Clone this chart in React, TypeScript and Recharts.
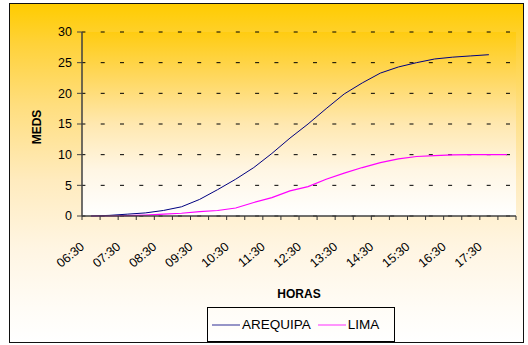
import React from 'react';
import { LineChart, Line, XAxis, YAxis, CartesianGrid, Legend } from 'recharts';

const times = ['06:30', '07:00', '07:30', '08:00', '08:30', '09:00', '09:30', '10:00', '10:30', '11:00', '11:30', '12:00', '12:30', '13:00', '13:30', '14:00', '14:30', '15:00', '15:30', '16:00', '16:30', '17:00', '17:30', '18:00'];
const arequipa = [0, 0.1, 0.3, 0.5, 0.9, 1.5, 2.7, 4.3, 6.0, 7.9, 10.2, 12.7, 15.0, 17.5, 19.9, 21.7, 23.3, 24.3, 25.0, 25.6, 25.9, 26.1, 26.3, null];
const lima = [0, 0, 0.05, 0.15, 0.3, 0.45, 0.7, 0.9, 1.3, 2.2, 3.0, 4.1, 4.8, 6.0, 7.0, 7.9, 8.7, 9.3, 9.7, 9.85, 9.95, 10.0, 10.0, 10.0];
const yTicks = [0, 5, 10, 15, 20, 25, 30];

const data = times.map((t, i) => ({ time: t, AREQUIPA: arequipa[i], LIMA: lima[i] }));

const FONT = '"Liberation Sans", Arial, sans-serif';

const XTick = (props: any) => {
  const { x, y, payload, index, visibleTicksCount } = props;
  const off = payload && typeof payload.offset === 'number' ? payload.offset : 0;
  const bx = x - off;
  const ax = x - 6;
  const ay = y + 32;
  return (
    <g>
      <line x1={bx} x2={bx} y1={y} y2={y + 4} stroke="#333" strokeWidth={1} />
      {index === visibleTicksCount - 1 && (
        <line x1={x + off} x2={x + off} y1={y} y2={y + 4} stroke="#333" strokeWidth={1} />
      )}
      {index % 2 === 0 && (
        <text x={ax} y={ay} transform={`rotate(-40, ${ax}, ${ay})`} textAnchor="end" fontSize={12.5} fill="#000" fontFamily={FONT}>
          {payload.value}
        </text>
      )}
    </g>
  );
};

const LegendBox = () => (
  <div style={{ boxSizing: 'border-box', width: 188, height: 35, border: '1px solid #000', display: 'flex', alignItems: 'center', fontFamily: FONT, fontSize: 13.5, color: '#000', paddingLeft: 4 }}>
    <svg width={28} height={4} style={{ marginRight: 2 }}><line x1={0} x2={28} y1={2} y2={2} stroke="#000080" strokeWidth={1.5} strokeOpacity={0.55} /></svg>
    <span style={{ marginRight: 7 }}>AREQUIPA</span>
    <svg width={28} height={4} style={{ marginRight: 2 }}><line x1={0} x2={28} y1={2} y2={2} stroke="#FF00FF" strokeWidth={1.5} strokeOpacity={0.55} /></svg>
    <span>LIMA</span>
  </div>
);

export default function App() {
  return (
    <div style={{ position: 'absolute', left: 0, top: 0, width: 528, height: 345, background: '#fff' }}>
      <div style={{ position: 'absolute', left: 9, top: 3, width: 513, height: 338, border: '1px solid #111', background: 'linear-gradient(to bottom, #FFCC00 0%, #FFD23A 12%, #FFDE7E 30%, #FFEBBE 52%, #FFF5E2 72%, #FFFCF6 90%, #FFFFFF 100%)' }} />
      <div style={{ position: 'absolute', left: 0, top: 0 }}>
        <LineChart width={528} height={345} data={data} margin={{ top: 32, right: 12, left: 0, bottom: 0 }}>
          <defs>
            <linearGradient id="plotGrad" x1="0" y1="0" x2="0" y2="1">
              <stop offset="0%" stopColor="#FFCC11" />
              <stop offset="25%" stopColor="#FFD860" />
              <stop offset="50%" stopColor="#FFE8B0" />
              <stop offset="75%" stopColor="#FFF6E4" />
              <stop offset="100%" stopColor="#FFFFFF" />
            </linearGradient>
          </defs>
          <CartesianGrid vertical={false} horizontal={true} fill="url(#plotGrad)" stroke="#000" strokeDasharray="4 15.3" strokeDashoffset={0.6} />
          <XAxis
            dataKey="time"
            scale="band"
            interval={0}
            height={129}
            tickLine={false}
            tickSize={0}
            tickMargin={0}
            axisLine={{ stroke: '#404040', strokeWidth: 1.5 }}
            tick={<XTick />}
            label={{ content: () => <text x={299} y={298} textAnchor="middle" fontSize={12} fontWeight="bold" fill="#000" fontFamily={FONT}>HORAS</text> }}
          />
          <XAxis xAxisId="top" dataKey="time" orientation="top" height={0} tick={false} tickLine={false} axisLine={{ stroke: '#808080', strokeWidth: 1 }} />
          <YAxis
            width={82}
            domain={[0, 30]}
            ticks={yTicks}
            interval={0}
            tickSize={5}
            tickMargin={5}
            axisLine={{ stroke: '#404040', strokeWidth: 1.5 }}
            tickLine={{ stroke: '#404040' }}
            tick={{ fontSize: 12.5, fill: '#000', fontFamily: FONT }}
            label={{ content: () => <text x={41} y={127} transform="rotate(-90, 41, 127)" textAnchor="middle" fontSize={12} fontWeight="bold" fill="#000" fontFamily={FONT}>MEDS</text> }}
          />
          <YAxis yAxisId="right" orientation="right" width={0} domain={[0, 30]} tick={false} tickLine={false} axisLine={{ stroke: '#A8A8A8', strokeWidth: 2 }} />
          <Line type="linear" dataKey="AREQUIPA" stroke="#000080" strokeWidth={1} dot={false} isAnimationActive={false} connectNulls={false} />
          <Line type="linear" dataKey="LIMA" stroke="#FF00FF" strokeWidth={1.2} dot={false} isAnimationActive={false} />
          <Legend verticalAlign="middle" align="center" layout="horizontal" wrapperStyle={{ position: 'absolute', left: 207, top: 307, width: 188, height: 35 }} content={() => <LegendBox />} />
        </LineChart>
      </div>
    </div>
  );
}
